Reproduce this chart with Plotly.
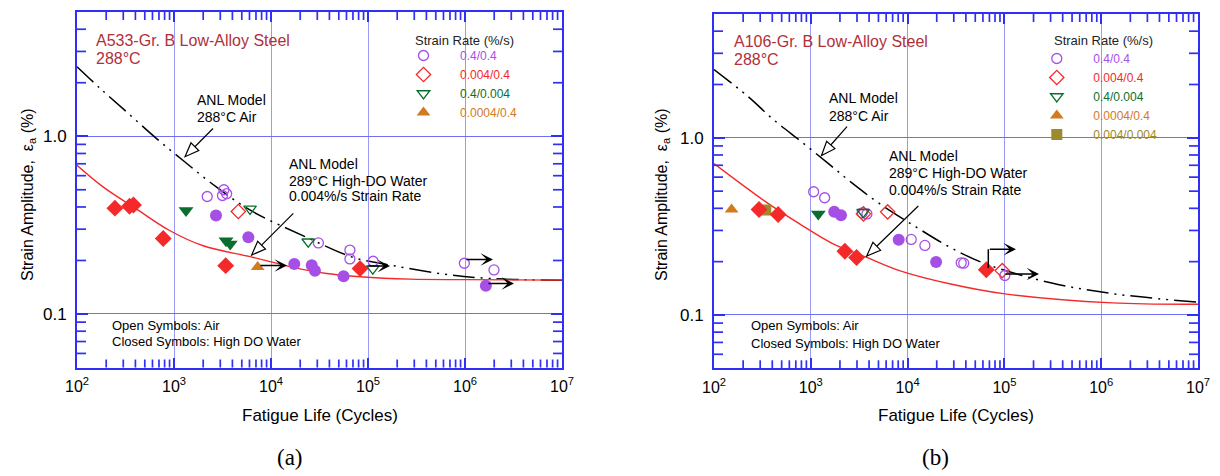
import math
import plotly.graph_objects as go

W, H = 1220, 476
FONT = "Liberation Sans, Arial, sans-serif"
FRAME = "#2f2ff5"
GRIDX = "#9a9af5"
GRIDY = "#6f6ff5"

PURPLE = "#a64fe6"
RED = "#f42a2a"
GREEN = "#0b6e2e"
ORANGE = "#d27a1e"
OLIVE = "#9c8a2c"
TITLE_RED = "#b0303a"

# ---------------- tick labels ----------------
X_TICKS = [1e2, 1e3, 1e4, 1e5, 1e6, 1e7]
X_TICK_TEXT = ["10<sup>2</sup>", "10<sup>3</sup>", "10<sup>4</sup>", "10<sup>5</sup>",
               "10<sup>6</sup>", "10<sup>7</sup>"]
X_MINOR = [m * 10 ** e for e in range(2, 7) for m in range(2, 10)]
Y_TICKS = [0.1, 1.0]
Y_TICK_TEXT = ["0.1", "1.0"]
Y_MINOR = [0.06, 0.07, 0.08, 0.09, 0.2, 0.3, 0.4, 0.5, 0.6, 0.7, 0.8, 0.9, 2, 3, 4]

RATES = ["0.4/0.4", "0.004/0.4", "0.4/0.004", "0.0004/0.4", "0.004/0.004"]

# ---------------- panel (a): A533-Gr. B ----------------
a_air_model_N = [100, 173, 325, 661, 1297, 2750, 6300, 23300, 70800, 183000, 589000, 1.94e6, 1e7]
a_air_model_e = [2.46, 1.86, 1.37, 0.97, 0.716, 0.517, 0.38, 0.27, 0.208, 0.187, 0.168, 0.158, 0.155]
a_water_model_N = [100, 187, 412, 910, 2000, 6580, 16900, 37500, 82800, 271000, 1e6, 1e7]
a_water_model_e = [0.686, 0.517, 0.389, 0.294, 0.242, 0.208, 0.183, 0.169, 0.162, 0.157, 0.156, 0.155]

a_air_0404_N = [2200, 3160, 3270, 3490, 30800, 65100, 65100, 113000, 985000, 1.99e6]
a_air_0404_e = [0.458, 0.464, 0.50, 0.475, 0.251, 0.229, 0.204, 0.198, 0.193, 0.177]
a_air_0004_04_N = [4600]
a_air_0004_04_e = [0.377]
a_air_04_0004_N = [6080, 24200, 112000]
a_air_04_0004_e = [0.39, 0.255, 0.18]
a_wat_0404_N = [2710, 5840, 17400, 26300, 28400, 56000, 1.64e6]
a_wat_0404_e = [0.358, 0.27, 0.191, 0.188, 0.175, 0.163, 0.144]
a_wat_0004_04_N = [246, 348, 382, 775, 3410, 82800]
a_wat_0004_04_e = [0.394, 0.404, 0.41, 0.266, 0.187, 0.18]
a_wat_04_0004_N = [1330, 3436, 3800]
a_wat_04_0004_e = [0.382, 0.258, 0.248]
a_wat_00004_04_N = [7290]
a_wat_00004_04_e = [0.184]

# ---------------- panel (b): A106-Gr. B ----------------
b_air_model_N = [100, 225, 402, 800, 1500, 2700, 5100, 12200, 27100, 62800, 300000, 1.3e6, 1e7]
b_air_model_e = [2.43, 1.71, 1.28, 0.95, 0.72, 0.553, 0.426, 0.314, 0.242, 0.195, 0.152, 0.132, 0.118]
b_water_model_N = [100, 343, 759, 1680, 3720, 8220, 27100, 97000, 1.3e6, 1e7]
b_water_model_e = [0.715, 0.435, 0.328, 0.253, 0.212, 0.178, 0.15, 0.132, 0.117, 0.115]

b_air_0404_N = [1070, 1390, 3400, 3800, 10900, 15100, 35800, 38000, 101000]
b_air_0404_e = [0.496, 0.459, 0.377, 0.372, 0.267, 0.247, 0.197, 0.196, 0.167]
b_air_0004_04_N = [3500, 6220, 95000]
b_air_0004_04_e = [0.372, 0.382, 0.178]
b_air_04_0004_N = [3470]
b_air_04_0004_e = [0.38]
b_wat_0404_N = [1746, 2050, 8090, 19700]
b_wat_0404_e = [0.382, 0.366, 0.266, 0.199]
b_wat_0004_04_N = [292, 460, 2250, 2970, 65000]
b_wat_0004_04_e = [0.394, 0.369, 0.229, 0.211, 0.18]
b_wat_04_0004_N = [1195]
b_wat_04_0004_e = [0.372]
b_wat_00004_04_N = [152]
b_wat_00004_04_e = [0.394]
b_wat_0004_0004_N = [343]
b_wat_0004_0004_e = [0.391]

X_RANGE = [2, 7]
Y_RANGE = [math.log10(0.05), math.log10(5)]


def px(x):
    return x / W


def py(y):
    return 1 - y / H


fig = go.Figure()

# model curves
for (N, e, xa, ya, style) in [
    (a_air_model_N, a_air_model_e, "x", "y", "air"),
    (a_water_model_N, a_water_model_e, "x", "y", "water"),
    (b_air_model_N, b_air_model_e, "x2", "y2", "air"),
    (b_water_model_N, b_water_model_e, "x2", "y2", "water"),
]:
    if style == "air":
        line = dict(color="black", width=1.5, dash="22px,6px,2px,6px,2px,6px", shape="spline")
    else:
        line = dict(color=RED, width=1.4, shape="spline")
    fig.add_trace(go.Scatter(x=N, y=e, xaxis=xa, yaxis=ya, mode="lines", line=line,
                             showlegend=False, hoverinfo="skip"))


def lab(text, color):
    return f"<span style='color:{color}'>{text}</span>"


def add_pts(N, e, xa, ya, symbol, color, filled, size, name=None, legend=None):
    if filled:
        marker = dict(symbol=symbol, size=size, color=color, line=dict(width=0))
    else:
        marker = dict(symbol=symbol + "-open", size=size, color=color, line=dict(width=1.3, color=color))
    fig.add_trace(go.Scatter(x=N, y=e, xaxis=xa, yaxis=ya, mode="markers", marker=marker,
                             name=name if name else "", showlegend=name is not None,
                             legend=legend if legend else "legend"))


# panel (a) markers: legend entries first
add_pts(a_air_0404_N, a_air_0404_e, "x", "y", "circle", PURPLE, False, 10, lab(RATES[0], PURPLE), "legend")
add_pts(a_air_0004_04_N, a_air_0004_04_e, "x", "y", "diamond", RED, False, 11, lab(RATES[1], RED), "legend")
add_pts(a_air_04_0004_N, a_air_04_0004_e, "x", "y", "triangle-down", GREEN, False, 11, lab(RATES[2], GREEN), "legend")
add_pts(a_wat_00004_04_N, a_wat_00004_04_e, "x", "y", "triangle-up", ORANGE, True, 12, lab(RATES[3], ORANGE), "legend")
add_pts(a_wat_0404_N, a_wat_0404_e, "x", "y", "circle", PURPLE, True, 12)
add_pts(a_wat_0004_04_N, a_wat_0004_04_e, "x", "y", "diamond", RED, True, 13)
add_pts(a_wat_04_0004_N, a_wat_04_0004_e, "x", "y", "triangle-down", GREEN, True, 13)

# panel (b) markers
add_pts(b_air_0404_N, b_air_0404_e, "x2", "y2", "circle", PURPLE, False, 10, lab(RATES[0], PURPLE), "legend2")
add_pts(b_air_0004_04_N, b_air_0004_04_e, "x2", "y2", "diamond", RED, False, 11, lab(RATES[1], RED), "legend2")
add_pts(b_air_04_0004_N, b_air_04_0004_e, "x2", "y2", "triangle-down", GREEN, False, 11, lab(RATES[2], GREEN), "legend2")
add_pts(b_wat_00004_04_N, b_wat_00004_04_e, "x2", "y2", "triangle-up", ORANGE, True, 12, lab(RATES[3], ORANGE), "legend2")
add_pts(b_wat_0004_0004_N, b_wat_0004_0004_e, "x2", "y2", "square", OLIVE, True, 11, lab(RATES[4], OLIVE), "legend2")
add_pts(b_wat_0404_N, b_wat_0404_e, "x2", "y2", "circle", PURPLE, True, 12)
add_pts(b_wat_0004_04_N, b_wat_0004_04_e, "x2", "y2", "diamond", RED, True, 13)
add_pts(b_wat_04_0004_N, b_wat_04_0004_e, "x2", "y2", "triangle-down", GREEN, True, 13)


def xaxis_cfg(domain, anchor):
    return dict(type="log", range=X_RANGE, domain=domain, anchor=anchor, automargin=False,
                tickmode="array", tickvals=X_TICKS, ticktext=X_TICK_TEXT,
                ticks="inside", ticklen=10, tickwidth=1.8, tickcolor=FRAME,
                showline=True, linecolor=FRAME, linewidth=2, mirror="allticks",
                showgrid=True, gridcolor=GRIDX, gridwidth=1.2, zeroline=False,
                tickfont=dict(size=16, color="black", family=FONT),
                ticklabelstandoff=3, fixedrange=True)


def yaxis_cfg(domain, anchor):
    return dict(type="log", range=Y_RANGE, domain=domain, anchor=anchor,
                automargin=False,
                tickmode="array", tickvals=Y_TICKS, ticktext=Y_TICK_TEXT,
                ticks="inside", ticklen=11, tickwidth=1.8, tickcolor=FRAME,
                showline=True, linecolor=FRAME, linewidth=2, mirror="allticks",
                showgrid=True, gridcolor=GRIDY, gridwidth=1.3, zeroline=False,
                tickfont=dict(size=17, color="black", family=FONT),
                ticklabelstandoff=5, fixedrange=True)


annotations = []
shapes = []


def minor_ticks(xname, yname):
    # unlabelled minor tick marks on all four sides, placed in axis-domain fractions
    tl = dict(color=FRAME, width=1.7)
    for v in X_MINOR:
        f = (math.log10(v) - X_RANGE[0]) / (X_RANGE[1] - X_RANGE[0])
        for anc, length in ((0, 8), (1, -8)):
            shapes.append(dict(type="line", xref=f"{xname} domain", yref=f"{yname} domain",
                               x0=f, x1=f, ysizemode="pixel", yanchor=anc, y0=0, y1=length, line=tl))
    for v in Y_MINOR:
        g = (math.log10(v) - Y_RANGE[0]) / (Y_RANGE[1] - Y_RANGE[0])
        for anc, length in ((0, 9), (1, -9)):
            shapes.append(dict(type="line", xref=f"{xname} domain", yref=f"{yname} domain",
                               y0=g, y1=g, xsizemode="pixel", xanchor=anc, x0=0, x1=length, line=tl))


minor_ticks("x", "y")
minor_ticks("x2", "y2")


def text(x, y, s, size=14, color="black", anchor="left", family=FONT, angle=0):
    annotations.append(dict(x=px(x), y=py(y), xref="paper", yref="paper", text=s,
                            showarrow=False, xanchor=anchor, yanchor="middle", textangle=angle,
                            font=dict(size=size, color=color, family=family)))


def runout(x0, y0, x1, y1):
    annotations.append(dict(x=px(x1), y=py(y1), xref="paper", yref="paper", ax=x0 - x1, ay=y0 - y1,
                            text="", showarrow=True, arrowhead=3, arrowsize=1.3, arrowwidth=1.6,
                            arrowcolor="black"))


def hollow_arrow(x0, y0, x1, y1, L=14, Wd=5.5):
    dx, dy = x1 - x0, y1 - y0
    d = math.hypot(dx, dy)
    ux, uy = dx / d, dy / d
    bx, by = x1 - ux * L, y1 - uy * L
    shapes.append(dict(type="line", xref="paper", yref="paper", x0=px(x0), y0=py(y0),
                       x1=px(bx), y1=py(by), line=dict(color="black", width=1.2)))
    lx, ly = bx - uy * Wd, by + ux * Wd
    rx, ry = bx + uy * Wd, by - ux * Wd
    path = f"M{px(x1)},{py(y1)} L{px(lx)},{py(ly)} L{px(rx)},{py(ry)} Z"
    shapes.append(dict(type="path", xref="paper", yref="paper", path=path,
                       fillcolor="white", line=dict(color="black", width=1.2)))


# ---- panel (a) texts ----
text(94, 40, "A533-Gr. B Low-Alloy Steel", 16, TITLE_RED)
text(94, 58, "288°C", 16, TITLE_RED)
text(413, 40, "Strain Rate (%/s)", 13, "#222222")
text(195, 99.5, "ANL Model")
text(195, 117, "288°C Air")
text(287, 163.5, "ANL Model")
text(287, 180.5, "289°C High-DO Water")
text(287, 196, "0.004%/s Strain Rate")
text(110, 325, "Open Symbols: Air", 13)
text(110, 341, "Closed Symbols: High DO Water", 13)
text(319.5, 415, "Fatigue Life (Cycles)", 17, anchor="center")
text(28, 195, "Strain Amplitude,  ε<sub>a</sub> (%)", 16, anchor="center", angle=-90)
text(290, 457, "(a)", 23, anchor="center", family="Liberation Serif, Times New Roman, serif")
hollow_arrow(213, 128.5, 185, 156.7)
hollow_arrow(293.3, 213.3, 251.7, 255)
runout(259, 265.5, 287, 265.5)
runout(367, 266, 390, 266)
runout(465, 259.5, 493, 259.5)
runout(487, 283.5, 514, 283.5)

# ---- panel (b) texts ----
text(731.5, 41, "A106-Gr. B Low-Alloy Steel", 16, TITLE_RED)
text(731.5, 59, "288°C", 16, TITLE_RED)
text(1051.5, 40.5, "Strain Rate (%/s)", 13, "#222222")
text(827, 98.5, "ANL Model")
text(827, 116, "288°C Air")
text(886.5, 156, "ANL Model")
text(886.5, 173, "289°C High-DO Water")
text(886.5, 190, "0.004%/s Strain Rate")
text(748.5, 325.5, "Open Symbols: Air", 13)
text(748.5, 343, "Closed Symbols: High DO Water", 13)
text(956, 415, "Fatigue Life (Cycles)", 17, anchor="center")
text(662, 195, "Strain Amplitude,  ε<sub>a</sub> (%)", 16, anchor="center", angle=-90)
text(935, 457, "(b)", 23, anchor="center", family="Liberation Serif, Times New Roman, serif")
hollow_arrow(847, 126.7, 821.5, 155.5)
hollow_arrow(918.3, 206, 866.7, 256)
shapes.append(dict(type="line", xref="paper", yref="paper", x0=px(988.3), y0=py(268),
                   x1=px(988.3), y1=py(249.3), line=dict(color="black", width=1.5)))
runout(988.3, 249.3, 1016, 249.3)
runout(1004, 274, 1039, 274)

legend_common = dict(bgcolor="rgba(0,0,0,0)", borderwidth=0, itemwidth=63,
                     font=dict(size=12, family=FONT), xanchor="left", yanchor="top",
                     tracegroupgap=0, itemclick=False, itemdoubleclick=False)

fig.update_layout(
    template="none",
    width=W, height=H,
    margin=dict(l=0, r=0, t=0, b=0, autoexpand=False),
    paper_bgcolor="white", plot_bgcolor="white",
    font=dict(family=FONT, color="black"),
    xaxis=xaxis_cfg([77 / W, 562 / W], "y"),
    yaxis=yaxis_cfg([1 - 367.5 / H, 1 - 12 / H], "x"),
    xaxis2=xaxis_cfg([714 / W, 1198 / W], "y2"),
    yaxis2=yaxis_cfg([1 - 368.3 / H, 1 - 14 / H], "x2"),
    legend=dict(x=px(425 - 38), y=py(41), **legend_common),
    legend2=dict(x=px(1058.3 - 38), y=py(44), **legend_common),
    annotations=annotations,
    shapes=shapes,
)

fig.write_html("out.html")
